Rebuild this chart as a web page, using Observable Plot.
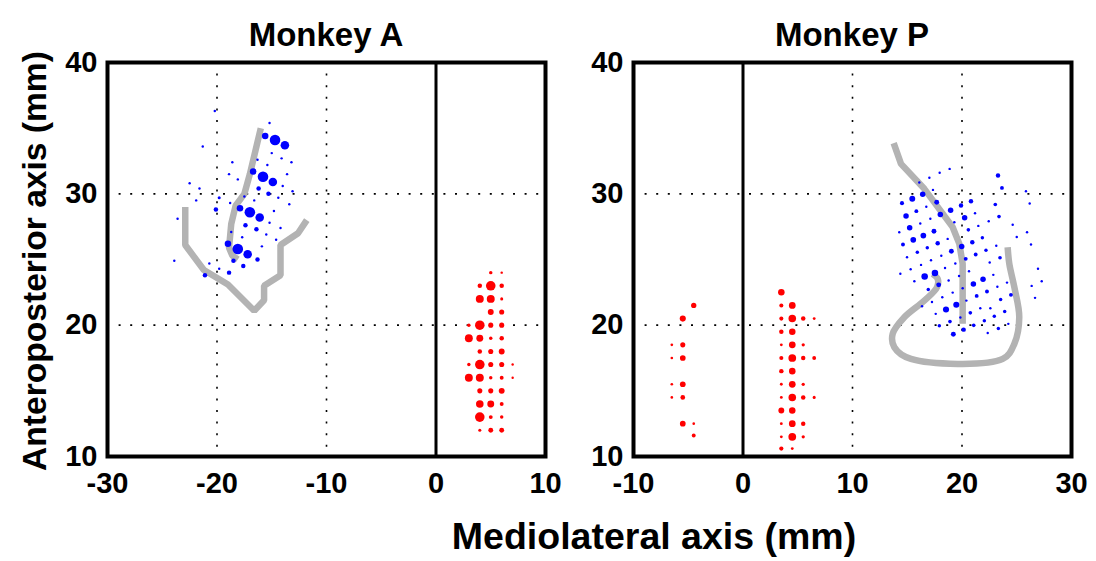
<!DOCTYPE html>
<html><head><meta charset="utf-8">
<script src="https://cdn.jsdelivr.net/npm/d3@7"></script>
<script src="https://cdn.jsdelivr.net/npm/@observablehq/plot@0.6"></script>
<style>
body{margin:0;background:#fff;}
#wrap{position:relative;width:1096px;height:561px;font-family:"Liberation Sans",Arial,sans-serif;font-weight:bold;color:#000;overflow:hidden;}
.lbl{position:absolute;white-space:nowrap;line-height:1;}
.pl{position:absolute;top:0;}
</style></head><body>
<div id="wrap">
  <div class="lbl" style="left:326px;top:34px;transform:translate(-50%,-50%);font-size:33px">Monkey A</div>
  <div class="lbl" style="left:852px;top:34px;transform:translate(-50%,-50%);font-size:33px">Monkey P</div>
  <div class="lbl" style="left:35px;top:261px;transform:translate(-50%,-50%) rotate(-90deg);font-size:33.6px">Anteroposterior axis (mm)</div>
  <div class="lbl" style="left:654px;top:537px;transform:translate(-50%,-50%);font-size:37.5px">Mediolateral axis (mm)</div>
  <div class="pl" id="pA" style="left:0px"></div>
  <div class="pl" id="pP" style="left:526px"></div>
</div>
<script>
// ---- tick labels ----
const yTicks = [10, 20, 30, 40];
const xTicksA = [-30, -20, -10, 0, 10];
const xTicksP = [-10, 0, 10, 20, 30];
const gridXA = [-20, -10];
const gridXP = [10, 20];
const gridY = [20, 30];

// ---- Monkey A: [mediolateral, anteroposterior, weight] ----
const blueA = [
  [-20.2,36.3,1],[-15.2,35.4,1],[-15.6,34.4,3],[-14.7,34.1,5],[-13.8,33.7,4],[-21.3,33.6,1],
  [-15.0,33.1,1],[-14.1,32.7,1],[-13.2,32.4,1],[-16.3,32.6,1],[-18.6,32.4,1],[-15.4,32.2,1],
  [-16.7,31.7,3],[-15.8,31.3,5],[-14.9,30.9,4],[-18.9,31.5,1],[-18.1,31.1,1],[-13.6,31.5,1],
  [-14.0,30.6,1],[-16.2,30.4,2],[-15.3,30.0,2],[-13.1,30.2,1],[-22.5,30.8,1],[-21.6,30.4,1],
  [-21.9,29.5,1],[-19.8,29.7,1.3],[-17.5,29.8,1],[-16.6,29.5,1],[-14.4,29.7,1],[-13.4,29.2,1],
  [-18.8,29.3,1],[-17.9,28.9,3],[-17.0,28.6,5],[-16.1,28.2,4],[-20.1,28.8,2],[-14.8,28.7,1],
  [-23.6,28.1,1],[-15.2,27.8,1],[-17.4,27.6,2],[-16.4,27.3,2],[-14.2,27.4,1],[-18.7,27.1,1],
  [-17.7,26.7,1],[-15.5,26.9,1],[-14.6,26.5,1],[-19.0,26.2,3],[-18.1,25.8,5],[-17.2,25.4,4],
  [-15.9,26.0,1],[-18.5,24.9,2],[-16.3,25.0,2],[-23.9,24.9,1],[-20.7,24.7,1],[-17.6,24.5,2],
  [-19.8,24.3,1],[-18.9,24.0,2],[-21.1,23.8,2]
];
const redA = [
  [5,24,1.5],[6,24,1],
  [4,23,2],[5,23,4.5],[6,23,2],
  [4,22,3.7],[5,22,3.7],[6,22,1.3],
  [5,21,2.7],[6,21,2.3],
  [3,20,1.5],[4,20,4.5],[5,20,2.3],[6,20,2.3],
  [3,19,3.7],[4,19,3.2],[5,19,1.5],[6,19,2],
  [4,18,2],[5,18,2.3],[6,18,2.7],
  [3,17,1.5],[4,17,4.5],[5,17,2.3],[6,17,2.3],[7,17,1],
  [3,16,3.7],[4,16,3.7],[5,16,1.5],[6,16,1.7],[7,16,1],
  [4,15,2.3],[5,15,2.3],[6,15,2.7],
  [4,14,3.5],[5,14,3.2],[6,14,1.7],
  [4,13,4.5],[5,13,1.7],[6,13,1.5],
  [4,12,1.3],[5,12,2.2],[6,12,2.2]
];
const sulcusA1 = [[-16.0,35.0],[-17.0,31.5],[-17.5,30.0],[-18.3,29.1],[-18.7,27.7],[-18.9,25.9],[-18.6,25.3],[-18.1,25.0]];
const sulcusA2 = [[-22.9,29.0],[-22.9,26.1],[-21.2,24.2],[-19.0,23.1],[-16.6,21.1],[-15.7,21.9],[-15.7,23.0],[-14.2,23.8],[-14.2,26.1],[-12.6,27.0],[-11.8,28.0]];

// ---- Monkey P ----
const blueP = [
  [18.87,31.90,1],[17.96,31.60,1],[17.02,31.22,1],[16.10,30.86,1],[23.29,31.39,2],[23.65,30.45,1.7],
  [25.84,30.20,1],[17.35,30.30,1],[16.41,29.97,2.5],[15.46,29.62,2.7],[14.52,29.29,1.8],[17.69,29.36,2.2],
  [20.82,29.44,2],[19.91,29.11,2],[23.04,29.19,1.6],[26.18,29.26,1],[16.74,29.01,1],[18.96,28.75,2.5],
  [15.83,28.68,1.7],[21.19,28.52,1],[18.02,28.42,2.5],[14.89,28.32,2.5],[23.38,28.27,1.6],[20.24,28.17,2.5],
  [17.11,28.10,1],[22.44,27.91,1],[19.30,27.84,1],[16.19,27.74,1],[24.63,27.64,1],[21.49,27.56,1],
  [15.22,27.41,2.5],[17.44,27.15,2.2],[20.58,27.26,1.6],[14.27,27.08,1],[25.94,27.08,1],[16.47,26.82,2.6],
  [21.86,26.65,1.5],[18.69,26.57,1],[25.00,26.72,1],[15.55,26.50,2.6],[20.94,26.31,2],[17.78,26.24,2],
  [14.61,26.14,1.7],[19.97,25.99,2.5],[23.13,26.04,1],[26.30,26.14,1],[16.83,25.89,1.5],[22.19,25.70,1.5],
  [19.03,25.63,2.2],[15.92,25.55,1.5],[21.25,25.38,1.7],[18.11,25.28,1],[14.98,25.17,1],[23.47,25.13,1.6],
  [20.34,25.05,1.7],[17.17,24.94,1],[22.53,24.77,1],[19.39,24.69,1],[16.26,24.59,1],[26.94,24.29,1],
  [18.45,24.36,1],[15.31,24.26,1],[17.53,23.98,3],[20.64,24.10,1],[14.37,23.91,1],[16.59,23.70,3],
  [22.86,23.83,1],[19.73,23.75,1],[21.92,23.50,2.5],[18.78,23.40,1],[15.65,23.34,1],[27.28,23.34,1],
  [24.11,23.24,1],[17.87,23.07,2.2],[21.04,23.14,2.5],[26.36,22.99,1],[23.23,22.92,1],[20.06,22.81,1],
  [16.92,22.71,1.5],[22.28,22.56,1.7],[19.15,22.48,1],[24.47,22.31,1.7],[21.34,22.23,1.7],[18.20,22.12,1],
  [26.67,22.08,1],[23.53,21.95,1.5],[20.40,21.87,1],[17.26,21.77,1],[19.48,21.55,2.8],[16.35,21.44,1],
  [22.59,21.29,1],[18.54,21.19,2.8],[21.67,21.29,1],[23.90,21.04,1.5],[20.76,20.94,1.6],[17.60,20.86,1],
  [22.95,20.68,1.5],[19.85,20.58,1],[18.90,20.27,1.6],[22.04,20.33,1.5],[24.23,20.10,1],[21.07,19.99,1.6],
  [17.93,19.95,1.5],[23.32,19.74,1.5],[20.15,19.66,2],[22.35,19.41,1],[19.21,19.31,2.2]
];
const redP = [
  [-4.5,21.5,2.4],[-5.5,20.5,2.8],
  [-6.5,18.5,1.1],[-5.5,18.5,2.3],
  [-6.5,17.5,1.1],[-5.5,17.5,2.6],
  [-6.5,15.5,1.1],[-5.5,15.5,2.6],
  [-6.5,14.5,1.1],[-5.5,14.5,2.1],
  [-5.5,12.5,2.6],[-4.5,12.5,1.1],
  [-4.5,11.6,1.7],
  [3.5,22.5,3],
  [3.5,21.5,1.8],[4.5,21.5,3.1],
  [3.5,20.5,1.8],[4.5,20.5,3.5],[5.5,20.5,2],[6.5,20.5,1.2],
  [3.5,19.5,2],[4.5,19.5,3],
  [3.5,18.5,1.2],[4.5,18.5,3.1],[5.5,18.5,1.4],
  [3.5,17.5,1.8],[4.5,17.5,3.6],[5.5,17.5,2],[6.5,17.5,1.7],
  [3.5,16.5,2],[4.5,16.5,3],
  [3.5,15.5,1.2],[4.5,15.5,3.1],[5.5,15.5,1.4],
  [3.5,14.5,1.2],[4.5,14.5,3.5],[5.5,14.5,2],[6.5,14.5,1.3],
  [3.5,13.5,2.7],[4.5,13.5,3],
  [3.5,12.5,1.2],[4.5,12.5,3.1],[5.5,12.5,2],
  [3.5,11.5,1.2],[4.5,11.5,3.6],[5.5,11.5,1.4],
  [3.5,10.6,1.9],[4.5,10.6,1.2]
];
const sulcusP1 = [[13.76,33.86],[14.43,32.28],[16.56,30.38],[19.15,27.46],[19.76,26.19],[20.06,24.67],[20.06,20.10]];
const sulcusP2 = [[17.32,23.91],[17.78,23.52],[17.72,22.89],[16.56,21.87],[14.73,20.60],[13.67,19.34],[13.82,18.32],[15.34,17.43],[23.72,17.43],[24.78,18.58],[25.23,20.60],[24.78,22.89],[24.32,24.67],[24.17,25.93]];

const FONT = '"Liberation Sans", Arial, sans-serif';

function panel(xdom, xticks, gridX, blue, red, paths) {
  const dotStyle = {x: d => d[0], y: d => d[1], r: d => d[2]};
  return Plot.plot({
    width: 570, height: 500,
    marginLeft: 107, marginRight: 25, marginTop: 62, marginBottom: 44,
    x: {domain: xdom, ticks: xticks, tickSize: 0, tickPadding: 16, label: null, tickFormat: d => String(d)},
    y: {domain: [10, 40], ticks: yTicks, tickSize: 0, tickPadding: 10, label: null, tickFormat: d => String(d)},
    r: {type: "linear", domain: [0, 5], range: [0.2, 5.3]},
    style: {fontFamily: FONT, fontSize: "29px", fontWeight: "bold", color: "#000", background: "transparent", overflow: "visible"},
    marks: [
      Plot.ruleX(gridX, {stroke: "#000", strokeWidth: 1.6, strokeDasharray: "2,9.6"}),
      Plot.ruleY(gridY, {stroke: "#000", strokeWidth: 1.6, strokeDasharray: "2,9.6"}),
      Plot.ruleX([0], {stroke: "#000", strokeWidth: 3}),
      ...paths.map(p => Plot.line(p.pts, {x: d => d[0], y: d => d[1], stroke: "#b3b3b3", strokeWidth: 6.5, strokeLinejoin: "miter", strokeLinecap: "butt", curve: p.curve})),
      Plot.dot(blue, {...dotStyle, fill: "#0000ff"}),
      Plot.dot(red, {...dotStyle, fill: "#ff0000"}),
      Plot.frame({stroke: "#000", strokeWidth: 4})
    ]
  });
}

document.getElementById("pA").appendChild(panel([-30, 10], xTicksA, gridXA, blueA, redA,
  [{pts: sulcusA1, curve: "linear"}, {pts: sulcusA2, curve: "linear"}]));
document.getElementById("pP").appendChild(panel([-10, 30], xTicksP, gridXP, blueP, redP,
  [{pts: sulcusP1, curve: "linear"}, {pts: sulcusP2, curve: "catmull-rom"}]));
</script>
</body></html>
